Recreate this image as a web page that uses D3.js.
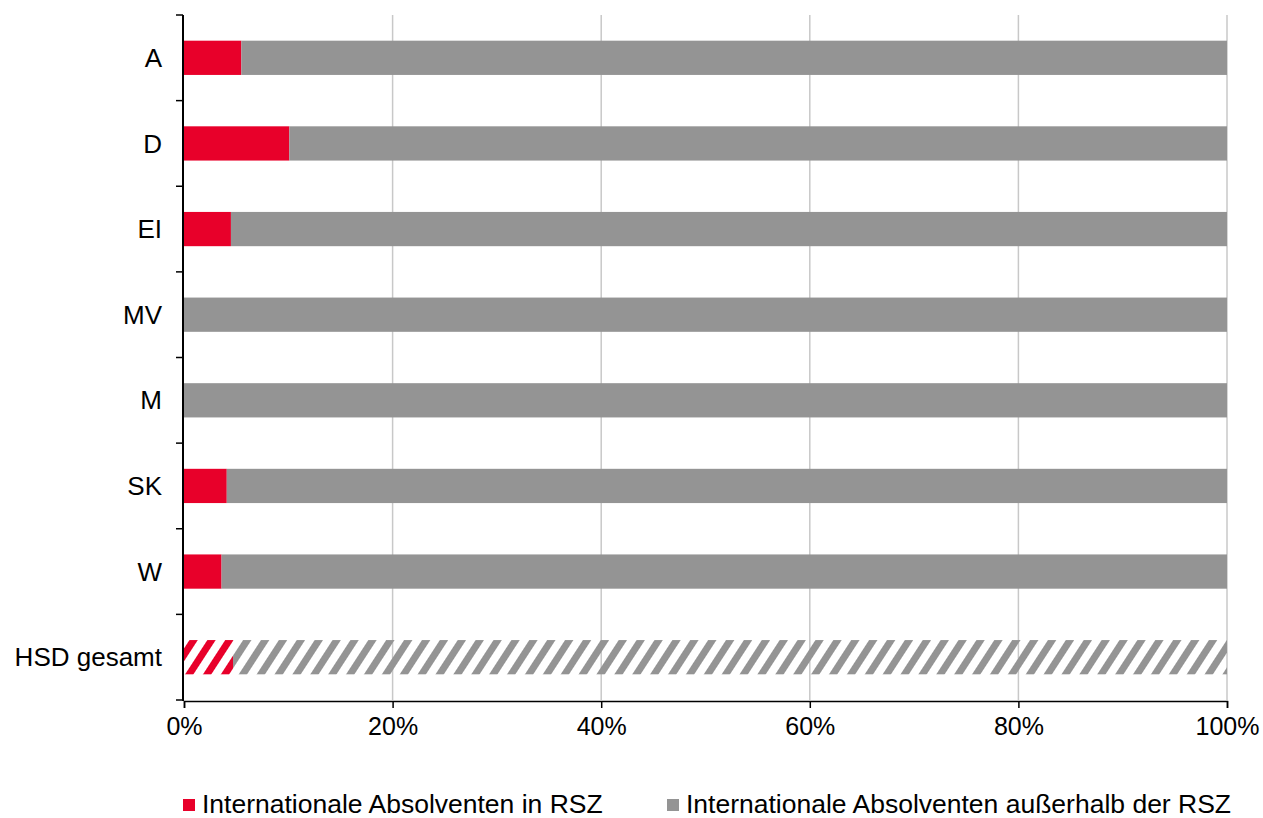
<!DOCTYPE html>
<html>
<head>
<meta charset="utf-8">
<script src="https://cdn.jsdelivr.net/npm/d3@7"></script>
<style>
  body { margin: 0; background: #fff; }
  text { font-family: "Liberation Sans", Arial, sans-serif; fill: #000; }
</style>
</head>
<body>
<div id="chart"></div>
<script>
const categories = ['A', 'D', 'EI', 'MV', 'M', 'SK', 'W', 'HSD gesamt']
const inRSZ = [5.5, 10.1, 4.5, 0, 0, 4.1, 3.6, 4.7]
const outsideRSZ = [94.5, 89.9, 95.5, 100, 100, 95.9, 96.4, 95.3]
const hatched = ['HSD gesamt']
const xTicks = [0, 20, 40, 60, 80, 100]
const seriesNames = ['Internationale Absolventen in RSZ', 'Internationale Absolventen außerhalb der RSZ']
const seriesKeys = ['inRSZ', 'outsideRSZ']
const colors = ['#e8002a', '#949494']

let width = 1263
let height = 818
let margin = {top: 15, right: 36, bottom: 118, left: 184}
let innerW = width - margin.left - margin.right
let innerH = height - margin.top - margin.bottom

let rows = categories.map((c, i) => ({cat: c, inRSZ: inRSZ[i], outsideRSZ: outsideRSZ[i]}))
let stacked = d3.stack().keys(seriesKeys)(rows)

let svg = d3.select('#chart')
  .append('svg')
  .attr('width', width)
  .attr('height', height)

// hatch patterns for the total bar
let defs = svg.append('defs')
colors.forEach((col, i) => {
  let p = defs.append('pattern')
    .attr('id', 'hatch' + i)
    .attr('patternUnits', 'userSpaceOnUse')
    .attr('width', 15)
    .attr('height', 15)
    .attr('patternTransform', 'rotate(33)')
  p.append('rect')
    .attr('x', 0)
    .attr('y', 0)
    .attr('width', 7)
    .attr('height', 15)
    .attr('fill', col)
})

let g = svg.append('g')
  .attr('transform', `translate(${margin.left},${margin.top})`)

let xScale = d3.scaleLinear()
  .domain([0, 100])
  .range([0, innerW])

let yScale = d3.scaleBand()
  .domain(categories)
  .range([0, innerH])
  .padding(0)

let barH = yScale.bandwidth() * 0.4
let barOff = (yScale.bandwidth() - barH) / 2

// gridlines
g.append('g')
  .selectAll('line')
  .data(xTicks.filter(t => t > 0))
  .enter()
  .append('line')
  .attr('x1', d => xScale(d))
  .attr('x2', d => xScale(d))
  .attr('y1', 0)
  .attr('y2', innerH)
  .attr('stroke', '#c8c8c8')
  .attr('stroke-width', 1.5)

// bars
stacked.forEach((s, si) => {
  g.append('g')
    .selectAll('rect')
    .data(s)
    .enter()
    .append('rect')
    .attr('x', d => xScale(d[0]))
    .attr('width', d => xScale(d[1]) - xScale(d[0]))
    .attr('y', d => yScale(d.data.cat) + barOff)
    .attr('height', barH)
    .attr('fill', d => hatched.includes(d.data.cat) ? `url(#hatch${si})` : colors[si])
})

// x axis
let xAxis = d3.axisBottom(xScale)
  .tickValues(xTicks)
  .tickFormat(d => d + '%')
  .tickSize(7)
  .tickPadding(9)

let xg = g.append('g')
  .attr('transform', `translate(0,${innerH + 1})`)
  .call(xAxis)
xg.select('.domain').attr('stroke', '#000').attr('stroke-width', 1.5)
xg.selectAll('.tick line').attr('stroke', '#000').attr('stroke-width', 1.5)
xg.selectAll('.tick text')
  .style('font-size', '25px')
  .attr('fill', '#000')

// y axis: labels centered, ticks at band boundaries
let yg = g.append('g')
yg.append('line')
  .attr('x1', -1)
  .attr('x2', -1)
  .attr('y1', 0)
  .attr('y2', innerH + 1)
  .attr('stroke', '#000')
  .attr('stroke-width', 2)

let bounds = categories.map(c => yScale(c)).concat([innerH])
yg.selectAll('.ytick')
  .data(bounds)
  .enter()
  .append('line')
  .attr('class', 'ytick')
  .attr('x1', -8)
  .attr('x2', -1)
  .attr('y1', d => d)
  .attr('y2', d => d)
  .attr('stroke', '#000')
  .attr('stroke-width', 1.5)

yg.selectAll('.ylabel')
  .data(categories)
  .enter()
  .append('text')
  .attr('class', 'ylabel')
  .attr('x', -22)
  .attr('y', d => yScale(d) + yScale.bandwidth() / 2)
  .attr('dy', '0.35em')
  .attr('text-anchor', 'end')
  .style('font-size', '26px')
  .text(d => d)

// legend
let legendX = [183, 667]
let legend = svg.append('g')
  .attr('transform', 'translate(0,799)')
seriesNames.forEach((name, i) => {
  legend.append('rect')
    .attr('x', legendX[i])
    .attr('y', 0)
    .attr('width', 12)
    .attr('height', 12)
    .attr('fill', colors[i])
  legend.append('text')
    .attr('x', legendX[i] + 19)
    .attr('y', 14)
    .style('font-size', '26.5px')
    .text(name)
})
</script>
</body>
</html>
